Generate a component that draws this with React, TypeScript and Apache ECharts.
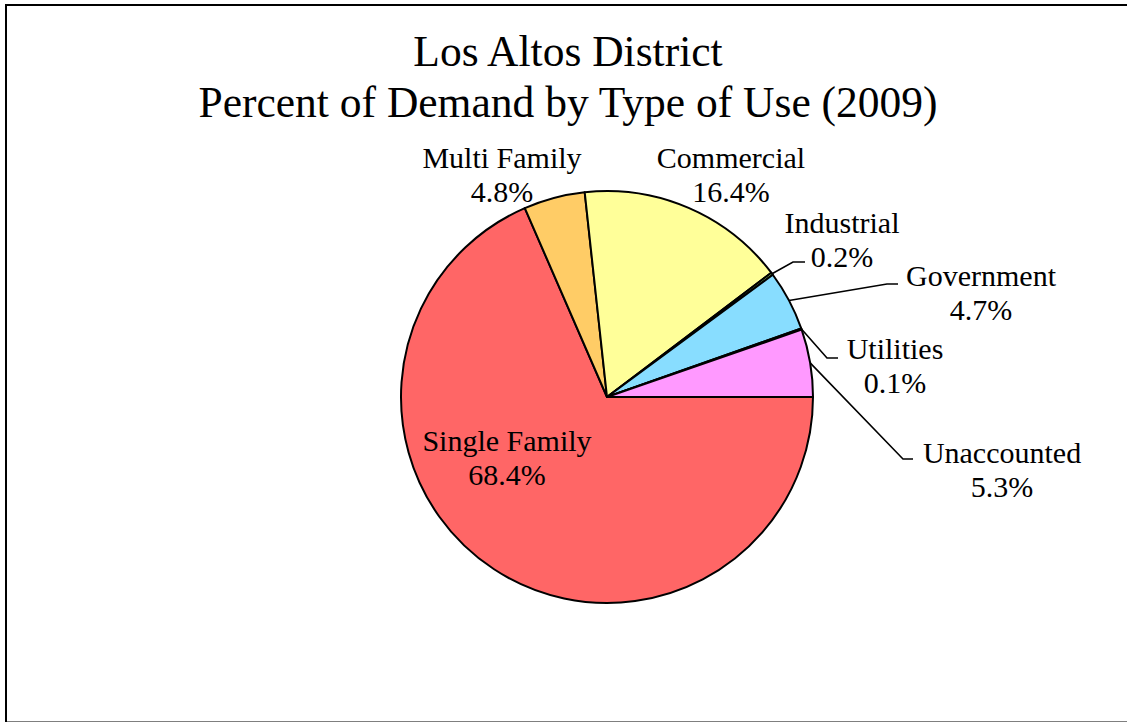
import React, { useEffect, useRef } from "react";
import * as echarts from "echarts";

// ---- data ----
const categories = [
  "Single Family",
  "Multi Family",
  "Commercial",
  "Industrial",
  "Government",
  "Utilities",
  "Unaccounted",
];
const values = [68.4, 4.8, 16.4, 0.2, 4.7, 0.1, 5.3];
const sliceColors = [
  "#FF6666",
  "#FFCC66",
  "#FFFF99",
  "#99CC66",
  "#88DDFF",
  "#6666CC",
  "#FF99FF",
];
const titleLines = ["Los Altos District", "Percent of Demand by Type of Use (2009)"];

// ---- label placement (layout only) ----
const labelCenters: number[][] = [
  [507, 457],
  [502, 174],
  [731, 174],
  [842, 239],
  [981, 292],
  [895, 365],
  [1002, 469],
];
const leaderBends: (number[][] | null)[] = [
  null,
  null,
  null,
  [[793, 262], [805, 262]],
  [[887, 284], [898, 284]],
  [[827, 358], [838, 358]],
  [[903, 459], [913, 459]],
];

const FONT = "'Liberation Serif', 'Times New Roman', serif";

export default function App() {
  const ref = useRef<HTMLDivElement | null>(null);

  useEffect(() => {
    if (!ref.current) return;
    const chart = echarts.init(ref.current, null, { renderer: "svg" });

    const data = categories.map((name, i) => ({
      name,
      value: values[i],
      itemStyle: { color: sliceColors[i] },
      label: i === 0 ? { position: "inside" } : { position: "outside" },
      labelLine: { show: leaderBends[i] !== null },
    }));

    chart.setOption({
      animation: false,
      backgroundColor: "#fff",
      title: {
        text: titleLines.join("\n"),
        left: 568,
        top: 25,
        padding: 0,
        textAlign: "center",
        textStyle: {
          fontFamily: FONT,
          fontSize: 43.5,
          fontWeight: "normal",
          lineHeight: 51,
          color: "#000",
        },
      },
      graphic: [
        {
          type: "rect",
          silent: true,
          z: -10,
          shape: { x: 6, y: 5, width: 1135, height: 717.5 },
          style: { fill: "none", stroke: "#000", lineWidth: 2 },
        },
      ],
      series: [
        {
          type: "pie",
          silent: true,
          center: [607, 397],
          radius: 206,
          startAngle: 0,
          clockwise: true,
          avoidLabelOverlap: false,
          itemStyle: { borderColor: "#000", borderWidth: 2 },
          label: {
            show: true,
            formatter: "{b}\n{c}%",
            fontFamily: FONT,
            fontSize: 30,
            lineHeight: 34,
            color: "#000",
            align: "center",
          },
          labelLine: {
            show: true,
            length: 20,
            length2: 10,
            lineStyle: { color: "#000", width: 1.6 },
          },
          labelLayout: (params: any) => {
            const i = params.dataIndex;
            const c = labelCenters[i];
            const out: any = {
              x: c[0],
              y: c[1],
              align: "center",
              verticalAlign: "middle",
            };
            const bends = leaderBends[i];
            if (bends && params.labelLinePoints && params.labelLinePoints[0]) {
              const start = params.labelLinePoints[0];
              out.labelLinePoints = [[start[0], start[1]], bends[0], bends[1]];
            }
            return out;
          },
          data,
        },
      ],
    });

    return () => {
      chart.dispose();
    };
  }, []);

  return (
    <div
      ref={ref}
      style={{
        position: "fixed",
        left: 0,
        top: 0,
        width: 1127,
        height: 722,
        background: "#fff",
      }}
    />
  );
}
